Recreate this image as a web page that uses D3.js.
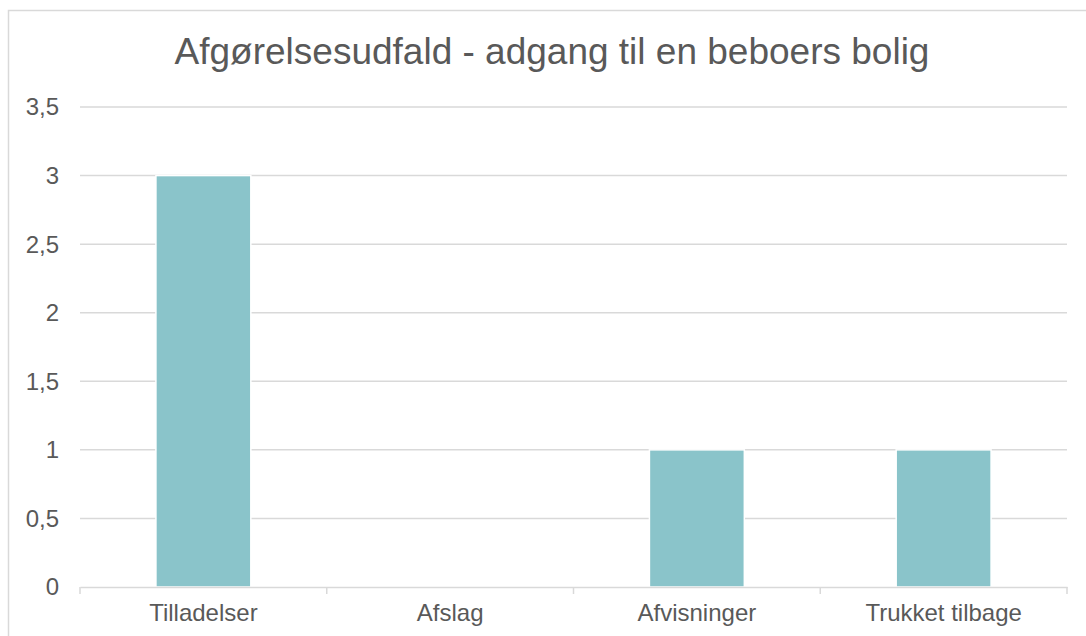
<!DOCTYPE html>
<html>
<head>
<meta charset="utf-8">
<script src="https://cdn.jsdelivr.net/npm/d3@7"></script>
<style>
  body { margin: 0; background: #fff; }
  text { font-family: "Liberation Sans", Arial, sans-serif; fill: #595959; }
</style>
</head>
<body>
<div id="chart"></div>
<script>
var categories = ["Tilladelser", "Afslag", "Afvisninger", "Trukket tilbage"];
var values = [3, 0, 1, 1];
var yTicks = [0, 0.5, 1, 1.5, 2, 2.5, 3, 3.5];
var titleText = "Afgørelsesudfald - adgang til en beboers bolig";

var width = 1086;
var height = 636;
var plotLeft = 80, plotRight = 1067, plotTop = 107, plotBottom = 587;

var svg = d3.select("#chart")
    .append("svg")
    .attr("width", width)
    .attr("height", height);

// outer chart border
svg.append("rect")
    .attr("x", 8.5)
    .attr("y", 10.5)
    .attr("width", 1100)
    .attr("height", 700)
    .style("fill", "none")
    .style("stroke", "#d9d9d9")
    .style("stroke-width", 1.5);

var x = d3.scaleBand()
    .domain(categories)
    .range([plotLeft, plotRight]);

var y = d3.scaleLinear()
    .domain([0, 3.5])
    .range([plotBottom, plotTop]);

// gridlines
svg.append("g")
    .selectAll("line")
    .data(yTicks.filter(function (d) { return d > 0; }))
    .enter()
    .append("line")
    .attr("x1", plotLeft)
    .attr("x2", plotRight)
    .attr("y1", function (d) { return y(d); })
    .attr("y2", function (d) { return y(d); })
    .style("stroke", "#d9d9d9")
    .style("stroke-width", 1.5);

// y labels
svg.append("g")
    .selectAll("text")
    .data(yTicks)
    .enter()
    .append("text")
    .attr("x", 59)
    .attr("y", function (d) { return y(d); })
    .attr("dy", ".35em")
    .attr("text-anchor", "end")
    .style("font-size", "24px")
    .text(function (d) { return String(d).replace(".", ","); });

// bars, gap width 160%
var barW = x.bandwidth() / 2.6;
var barData = categories.map(function (c, i) { return { cat: c, val: values[i] }; })
    .filter(function (d) { return d.val > 0; });

svg.append("g")
    .selectAll("rect")
    .data(barData)
    .enter()
    .append("rect")
    .attr("x", function (d) { return x(d.cat) + (x.bandwidth() - barW) / 2; })
    .attr("y", function (d) { return y(d.val); })
    .attr("width", barW)
    .attr("height", function (d) { return y(0) - y(d.val); })
    .style("fill", "#8ac4ca")
    .style("stroke", "#ffffff")
    .style("stroke-width", 1.5);

// x axis
var gx = svg.append("g")
    .attr("transform", "translate(0," + plotBottom + ")")
    .call(d3.axisBottom(x).tickSize(0).tickPadding(17));
gx.select(".domain").style("stroke", "#d9d9d9").style("stroke-width", 1.5);
gx.selectAll("text")
    .style("font-size", "24px")
    .style("font-family", "Liberation Sans, Arial, sans-serif")
    .style("fill", "#595959");

// category separator ticks
var seps = categories.map(function (c) { return x(c); }).concat([plotRight]);
svg.append("g")
    .selectAll("line")
    .data(seps)
    .enter()
    .append("line")
    .attr("x1", function (d) { return d; })
    .attr("x2", function (d) { return d; })
    .attr("y1", plotBottom)
    .attr("y2", plotBottom + 7)
    .style("stroke", "#d9d9d9")
    .style("stroke-width", 1.5);

// title
svg.append("text")
    .attr("x", 552)
    .attr("y", 64)
    .attr("text-anchor", "middle")
    .style("font-size", "37px")
    .text(titleText);
</script>
</body>
</html>
